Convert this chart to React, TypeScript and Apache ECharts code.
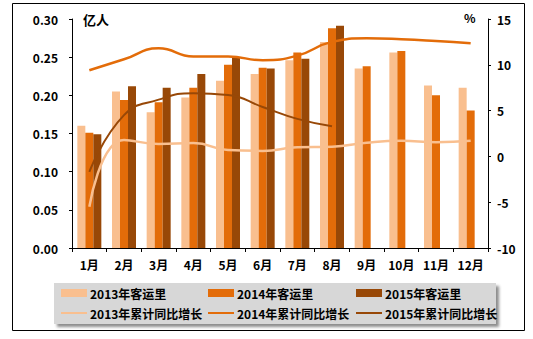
import React, { useEffect, useRef } from "react";
import * as echarts from "echarts";

const months = ["1月", "2月", "3月", "4月", "5月", "6月", "7月", "8月", "9月", "10月", "11月", "12月"];
const pax2013 = [0.16, 0.205, 0.178, 0.197, 0.219, 0.228, 0.246, 0.27, 0.235, 0.256, 0.213, 0.21];
const pax2014 = [0.151, 0.194, 0.191, 0.21, 0.24, 0.236, 0.256, 0.288, 0.238, 0.258, 0.2, 0.18];
const pax2015 = [0.149, 0.212, 0.21, 0.228, 0.25, 0.235, 0.248, 0.291, null, null, null, null];
const growth2013 = [-5.5, 1.8, 1.35, 1.45, 0.7, 0.6, 1.0, 1.05, 1.5, 1.7, 1.55, 1.7];
const growth2014 = [9.4, 10.6, 11.8, 10.9, 10.9, 10.5, 11.0, 12.5, 12.9, 12.8, 12.6, 12.35];
const growth2015 = [-1.7, 4.5, 6.2, 6.9, 6.7, 5.4, 4.1, 3.3, null, null, null, null];
const leftTicks = { min: 0, max: 0.3, interval: 0.05 };
const rightTicks = { min: -10, max: 15, interval: 5 };

const C13 = "#F9BF8F";
const C14 = "#E36C09";
const C15 = "#984807";
const FONT = "'Noto Sans CJK SC', 'Noto Sans', sans-serif";

export default function App() {
  const ref = useRef<HTMLDivElement>(null);
  useEffect(() => {
    if (!ref.current) return;
    const chart = echarts.init(ref.current, undefined, { renderer: "svg" });
    const txt = { fontFamily: FONT, fontWeight: "bold" as const, fontSize: 12, color: "#000" };
    const legendBase = {
      orient: "vertical" as const,
      top: 287,
      itemGap: 8,
      itemWidth: 26,
      itemHeight: 8,
      textStyle: { ...txt, lineHeight: 12, padding: [0, 0, 0, -2] },
      padding: 0,
      selectedMode: false,
    };
    const lineItem = (name: string) => ({ name, itemStyle: { opacity: 0 } });
    chart.setOption({
      animation: false,
      backgroundColor: "#fff",
      grid: { left: 72, right: 45, top: 19, bottom: 91, containLabel: false },
      graphic: [
        { type: "rect", shape: { x: 12.5, y: 3.5, width: 512, height: 327 }, style: { fill: "none", stroke: "#000", lineWidth: 1 }, z: -10 },
        {
          type: "rect",
          shape: { x: 54, y: 283, width: 442, height: 41 },
          style: { fill: "#d7d7d7", shadowBlur: 3, shadowOffsetX: 3, shadowOffsetY: 3, shadowColor: "rgba(0,0,0,0.45)" },
          z: -5,
        },
        { type: "text", x: 83, y: 13, style: { text: "亿人", font: `bold 13px ${FONT}`, fill: "#000" } },
        { type: "text", x: 464, y: 11, style: { text: "%", font: `bold 12px ${FONT}`, fill: "#000" } },
      ],
      legend: [
        { ...legendBase, left: 60, data: [{ name: "2013年客运里", icon: "rect" }, lineItem("2013年累计同比增长")] },
        { ...legendBase, left: 207, data: [{ name: "2014年客运里", icon: "rect" }, lineItem("2014年累计同比增长")] },
        { ...legendBase, left: 355, data: [{ name: "2015年客运里", icon: "rect" }, lineItem("2015年累计同比增长")] },
      ],
      xAxis: {
        type: "category",
        data: months,
        axisLine: { lineStyle: { color: "#000", width: 1 } },
        axisTick: { show: true, length: 4, lineStyle: { color: "#000" } },
        axisLabel: { ...txt, margin: 10 },
      },
      yAxis: [
        {
          type: "value",
          ...leftTicks,
          position: "left",
          splitLine: { show: false },
          axisLine: { show: true, lineStyle: { color: "#000" } },
          axisTick: { show: true, length: 3, lineStyle: { color: "#000" } },
          axisLabel: { ...txt, margin: 14, formatter: (v: number) => v.toFixed(2) },
        },
        {
          type: "value",
          ...rightTicks,
          position: "right",
          splitLine: { show: false },
          axisLine: { show: true, lineStyle: { color: "#000" } },
          axisTick: { show: true, length: 3, lineStyle: { color: "#000" } },
          axisLabel: { ...txt, margin: 9 },
        },
      ],
      series: [
        { name: "2013年客运里", type: "bar", data: pax2013, barWidth: 8, barGap: "0%", itemStyle: { color: C13 } },
        { name: "2014年客运里", type: "bar", data: pax2014, barWidth: 8, barGap: "0%", itemStyle: { color: C14 } },
        { name: "2015年客运里", type: "bar", data: pax2015, barWidth: 8, barGap: "0%", itemStyle: { color: C15 } },
        { name: "2013年累计同比增长", type: "line", yAxisIndex: 1, data: growth2013, smooth: true, symbol: "none", lineStyle: { color: C13, width: 2.5 }, itemStyle: { color: C13 } },
        { name: "2014年累计同比增长", type: "line", yAxisIndex: 1, data: growth2014, smooth: true, symbol: "none", lineStyle: { color: C14, width: 2.5 }, itemStyle: { color: C14 } },
        { name: "2015年累计同比增长", type: "line", yAxisIndex: 1, data: growth2015, smooth: true, symbol: "none", lineStyle: { color: C15, width: 2 }, itemStyle: { color: C15 } },
      ],
    });
    return () => chart.dispose();
  }, []);
  return <div ref={ref} style={{ position: "absolute", left: 0, top: 0, width: 533, height: 339 }} />;
}
